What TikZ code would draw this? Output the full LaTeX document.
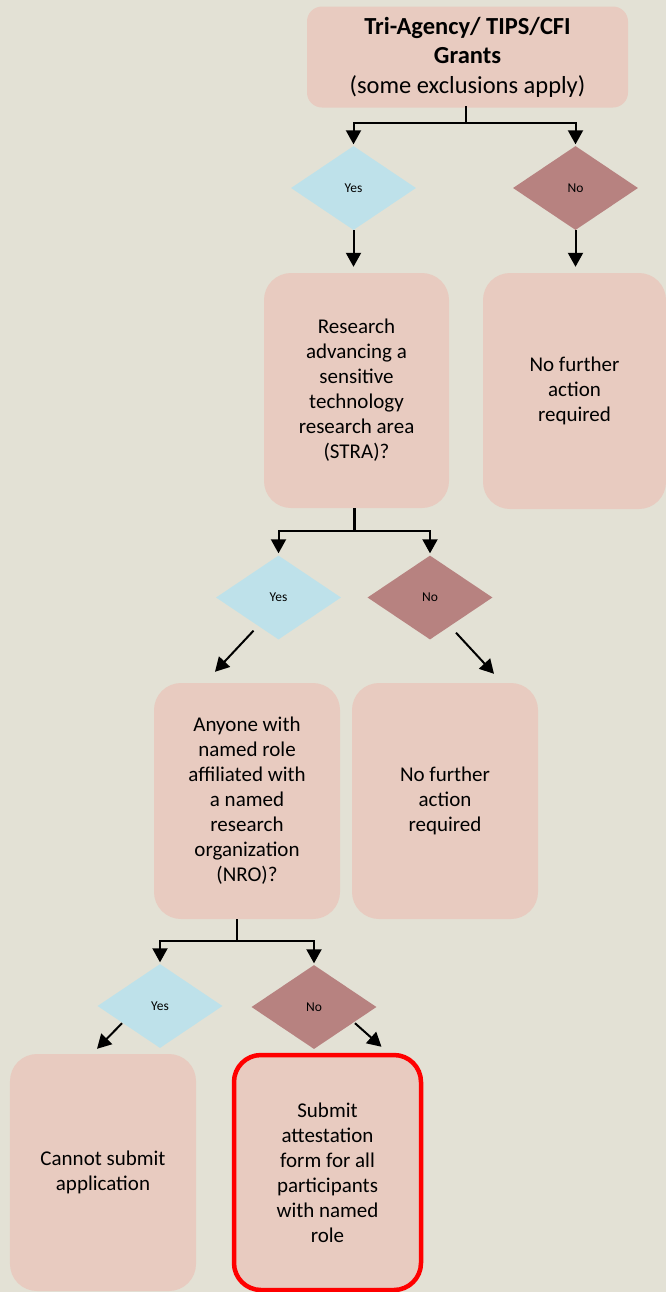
\documentclass[tikz,border=0pt]{standalone}
\usepackage{fontspec}
\setmainfont{Carlito}
\usetikzlibrary{shapes.geometric,arrows.meta,calc}
\definecolor{bgc}{HTML}{E3E1D5}
\definecolor{boxc}{HTML}{E8CBC0}
\definecolor{yesc}{HTML}{BEE1EA}
\definecolor{noc}{HTML}{B78280}
\definecolor{redc}{HTML}{FF0000}
\tikzset{
  box/.style={rectangle, rounded corners=27bp, fill=boxc, inner sep=0pt, align=center,
    font=\fontsize{21bp}{25bp}\selectfont},
  topbox/.style={rectangle, rounded corners=15bp, fill=boxc, inner sep=0pt, align=center,
    font=\fontsize{24.5bp}{29.5bp}\selectfont},
  diam/.style={diamond, minimum width=125bp, minimum height=84bp, inner sep=0pt,
    font=\fontsize{13.5bp}{16bp}\selectfont},
  yesd/.style={diam, fill=yesc},
  nod/.style={diam, fill=noc},
  wire/.style={line width=2bp, draw=black},
  conn/.style={wire, -{Triangle[width=15bp,length=14bp]}},
}
\begin{document}
\begin{tikzpicture}[x=1bp,y=-1bp]
\fill[bgc] (0,0) rectangle (666,1292);
\useasboundingbox (0,0) rectangle (666,1292);

\node[topbox, minimum width=321bp, minimum height=101bp] (top) at (467.5,57)
  {\textbf{Tri-Agency/ TIPS/CFI}\\\textbf{Grants}\\(some exclusions apply)};

\node[yesd] (y1) at (353.5,188) {Yes};
\node[nod]  (n1) at (575.5,188) {No};

\node[box, minimum width=185bp, minimum height=235bp] (b2) at (356.5,390.5)
  {Research\\advancing a\\sensitive\\technology\\research area\\(STRA)?};
\node[box, minimum width=183bp, minimum height=236bp] (b3) at (574.5,391)
  {No further\\action\\required};

\node[yesd] (y2) at (278.5,597.5) {Yes};
\node[nod]  (n2) at (430,597.5) {No};

\node[box, minimum width=186bp, minimum height=236bp] (b4) at (247,801)
  {Anyone with\\named role\\affiliated with\\a named\\research\\organization\\(NRO)?};
\node[box, minimum width=186bp, minimum height=236bp] (b5) at (445,801)
  {No further\\action\\required};

\node[yesd] (y3) at (160,1006) {Yes};
\node[nod]  (n3) at (314,1007) {No};

\node[box, minimum width=186bp, minimum height=237bp] (b6) at (103,1172.5)
  {Cannot submit\\application};
\node[box, draw=redc, line width=4.5bp, minimum width=187bp, minimum height=235bp] (b7) at (327.5,1172.5)
  {Submit\\attestation\\form for all\\participants\\with named\\role};

% top split
\draw[wire] ([xshift=-1.5bp,yshift=1.5bp]top.south) -- ++(0,17) coordinate (j1);
\draw[conn, shorten >=1.5bp] (j1) -| (y1.north);
\draw[conn, shorten >=1.5bp] (j1) -| (n1.north);
\draw[conn, shorten >=6bp] (y1.south) -- (y1.south |- b2.north);
\draw[conn, shorten >=6bp] (n1.south) -- (n1.south |- b3.north);

% middle split
\draw[line width=3bp] ([xshift=-2.5bp]b2.south) -- ++(0,23) coordinate (j2);
\draw[conn, shorten >=2bp] (j2) -| (y2.north);
\draw[conn, shorten >=2bp] (j2) -| (n2.north);
\draw[conn] ($(y2.south)+(-25,-9)$) -- ($(b4.north)+(-32,-11)$);
\draw[conn] ($(n2.south)+(26,-7)$) -- ($(b5.north)+(49,-9)$);

% bottom split
\draw[wire] ([xshift=-10bp]b4.south) -- ++(0,22) coordinate (j3);
\draw[conn, shorten >=1.5bp] (j3) -| (y3.north);
\draw[conn, shorten >=1.5bp] (j3) -| (n3.north);
\draw[conn] ($(y3.south)+(-38,-25)$) -- ($(b6.north)+(-6,-5)$);
\draw[conn] ($(n3.south)+(41,-26)$) -- ($(b7.north)+(54,-6)$);
\end{tikzpicture}
\end{document}
